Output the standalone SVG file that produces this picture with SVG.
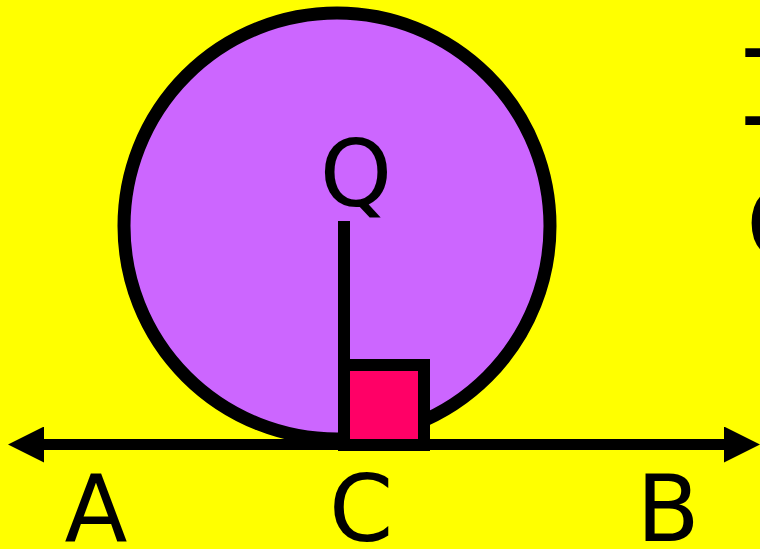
<svg xmlns="http://www.w3.org/2000/svg" width="760" height="549" viewBox="0 0 760 549">
  <defs>
    <marker id="arr" markerUnits="userSpaceOnUse" viewBox="0 0 36 36" refX="0" refY="18" markerWidth="36" markerHeight="36" orient="auto-start-reverse">
      <path d="M0,0 L36,18 L0,36 z" fill="#000"/>
    </marker>
    <style>
      .lbl { font-family: "DejaVu Sans", "Liberation Sans", sans-serif; font-size: 92px; fill: #000; text-anchor: middle; }
      .stk { stroke: #000; stroke-width: 12; }
    </style>
  </defs>
  <rect x="0" y="0" width="760" height="549" fill="#FFFF00"/>
  <g id="circle">
    <circle cx="337" cy="226" r="213" fill="#CC66FF" stroke="#000" stroke-width="13"/>
    <text class="lbl" x="356" y="206" font-size="100">Q</text>
  </g>
  <g id="radius">
    <line x1="344" y1="221" x2="344" y2="440" class="stk"/>
  </g>
  <g id="right-angle">
    <rect x="344" y="365" width="80" height="80" fill="#FF0066" class="stk"/>
  </g>
  <g id="connectors">
    <line x1="44" y1="444.5" x2="724" y2="444.5" stroke="#000" stroke-width="11" marker-start="url(#arr)" marker-end="url(#arr)"/>
  </g>
  <g id="label-A"><text class="lbl" x="96" y="541">A</text></g>
  <g id="label-C"><text class="lbl" x="361" y="541">C</text></g>
  <g id="label-B"><text class="lbl" x="668" y="541">B</text></g>
  <g id="side-text">
    <text x="735" y="125" font-family="DejaVu Sans Mono, monospace" font-size="105" fill="#000">I</text>
    <text x="746" y="260" font-family="DejaVu Sans, sans-serif" font-size="100" fill="#000">C</text>
  </g>
</svg>
